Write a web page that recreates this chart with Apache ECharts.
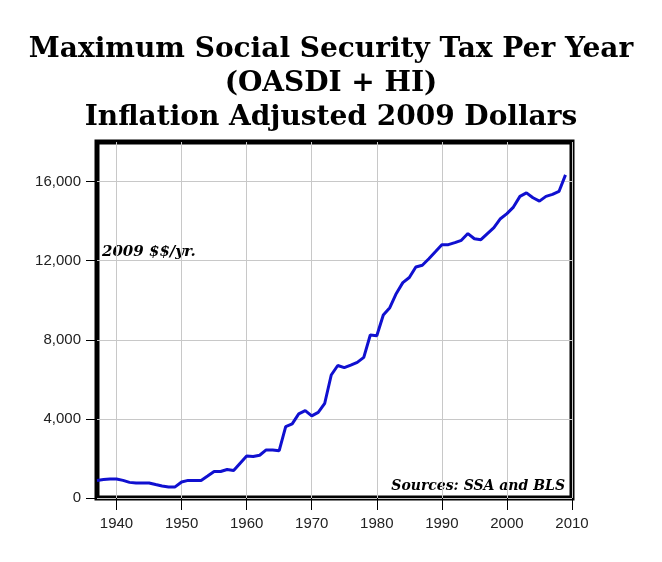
<!DOCTYPE html>
<html>
<head>
<meta charset="utf-8">
<script src="https://cdn.jsdelivr.net/npm/echarts@6/dist/echarts.min.js"></script>
<style>
html,body{margin:0;padding:0;background:#fff;}
#chart{width:662px;height:562px;}
</style>
</head>
<body>
<div id="chart"></div>
<script>
const years = [1937,1938,1939,1940,1941,1942,1943,1944,1945,1946,1947,1948,1949,
  1950,1951,1952,1953,1954,1955,1956,1957,1958,1959,
  1960,1961,1962,1963,1964,1965,1966,1967,1968,1969,
  1970,1971,1972,1973,1974,1975,1976,1977,1978,1979,
  1980,1981,1982,1983,1984,1985,1986,1987,1988,1989,
  1990,1991,1992,1993,1994,1995,1996,1997,1998,1999,
  2000,2001,2002,2003,2004,2005,2006,2007,2008,2009];
const maxTax = [890,930,960,960,890,790,760,760,760,680,610,560,560,
  810,890,890,890,1110,1340,1340,1440,1390,1760,
  2120,2100,2160,2430,2430,2390,3610,3750,4250,4420,
  4150,4330,4790,6220,6700,6590,6720,6860,7110,8240,
  8200,9250,9620,10340,10890,11150,11680,11770,12100,12450,
  12810,12810,12910,13030,13370,13110,13060,13370,13670,14120,
  14380,14710,15250,15430,15180,15010,15250,15350,15500,16340];
const xTickValues = [1940,1950,1960,1970,1980,1990,2000,2010];
const yTickValues = [0,4000,8000,12000,16000];
const titleText = 'Maximum Social Security Tax Per Year\n(OASDI + HI)\nInflation Adjusted 2009 Dollars';
const unitNote = '2009 $$/yr.';
const sourceNote = 'Sources: SSA and BLS';

const chart = echarts.init(document.getElementById('chart'), null, {renderer:'canvas'});
const labelFont = {fontFamily:'"Liberation Sans", Arial, sans-serif', fontSize:15, color:'#222'};
chart.setOption({
  animation:false,
  backgroundColor:'#fff',
  title:{
    text:titleText,
    left:'center', top:28,
    textStyle:{fontFamily:'"DejaVu Serif", Georgia, serif', fontWeight:'bold', fontSize:28, lineHeight:34, color:'#000'}
  },
  grid:{left:97, right:90, top:142, bottom:64, show:true, borderColor:'#000', borderWidth:5, backgroundColor:'#fff'},
  xAxis:{
    type:'value', min:1937, max:2010,
    axisLine:{show:false},
    axisTick:{show:true, length:12, inside:false, customValues:xTickValues, lineStyle:{color:'#000', width:1}},
    axisLabel:Object.assign({margin:18, customValues:xTickValues, formatter:v=>String(v)}, labelFont),
    splitLine:{show:true, lineStyle:{color:'#c8c8c8', width:1}}
  },
  yAxis:{
    type:'value', min:0, max:18000,
    axisLine:{show:false},
    axisTick:{show:true, length:11, inside:false, customValues:yTickValues, lineStyle:{color:'#000', width:1}},
    axisLabel:Object.assign({margin:16, customValues:yTickValues, formatter:v=>v.toLocaleString('en-US')}, labelFont),
    splitLine:{show:true, lineStyle:{color:'#c8c8c8', width:1}}
  },
  series:[{
    type:'line',
    data:years.map((y,i)=>[y,maxTax[i]]),
    showSymbol:false, symbol:'none',
    lineStyle:{color:'#1010d0', width:3},
    itemStyle:{color:'#1010d0'}
  }],
  graphic:[
    {type:'text', left:102, top:245, style:{text:unitNote, font:'italic bold 15px "DejaVu Serif", Georgia, serif', fill:'#000'}},
    {type:'text', right:97, top:479, style:{text:sourceNote, font:'italic bold 14px "DejaVu Serif", Georgia, serif', fill:'#000'}}
  ]
});
</script>
</body>
</html>
